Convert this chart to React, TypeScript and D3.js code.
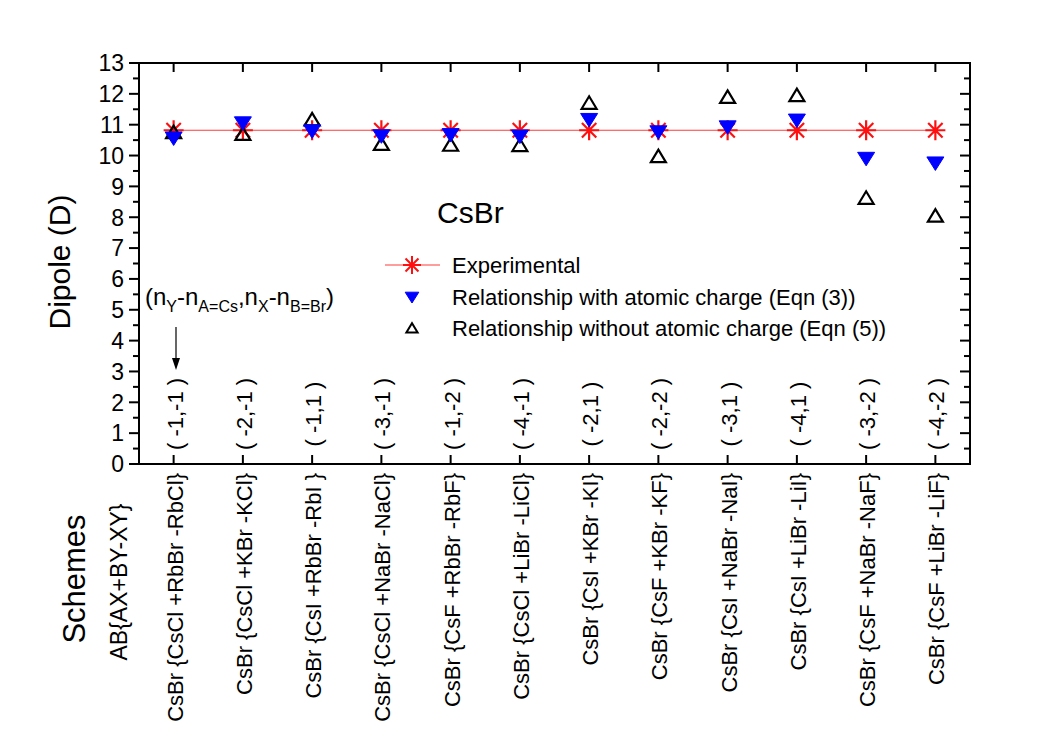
import React from "react";
import * as d3 from "d3";

const schemes = [
  "CsBr {CsCl +RbBr -RbCl}",
  "CsBr {CsCl +KBr -KCl}",
  "CsBr {CsI +RbBr -RbI }",
  "CsBr {CsCl +NaBr -NaCl}",
  "CsBr {CsF +RbBr -RbF}",
  "CsBr {CsCl +LiBr -LiCl}",
  "CsBr {CsI +KBr -KI}",
  "CsBr {CsF +KBr -KF}",
  "CsBr {CsI +NaBr -NaI}",
  "CsBr {CsI +LiBr -LiI}",
  "CsBr {CsF +NaBr -NaF}",
  "CsBr {CsF +LiBr -LiF}",
];
const pairs = [
  "( -1,-1 )", "( -2,-1 )", "( -1,1 )", "( -3,-1 )", "( -1,-2 )", "( -4,-1 )",
  "( -2,1 )", "( -2,-2 )", "( -3,1 )", "( -4,1 )", "( -3,-2 )", "( -4,-2 )",
];
const experimental = [10.82, 10.82, 10.82, 10.82, 10.82, 10.82, 10.82, 10.82, 10.82, 10.82, 10.82, 10.82];
const eqn3 = [10.57, 11.06, 10.8, 10.64, 10.68, 10.63, 11.17, 10.77, 10.93, 11.15, 9.91, 9.76];
const eqn5 = [10.76, 10.7, 11.17, 10.38, 10.35, 10.34, 11.71, 9.98, 11.9, 11.96, 8.63, 8.05];
const yTicks = d3.range(0, 14, 1);
const yMinor = d3.range(0.5, 13, 1);

const FONT = "'Liberation Sans', Arial, sans-serif";

export default function App() {
  const L = 139, R = 970, T = 63, B = 464;
  const x = d3.scaleLinear().domain([0.5, 12.5]).range([L, R]);
  const y = d3.scaleLinear().domain([0, 13]).range([B, T]);
  const idx = d3.range(1, 13);
  const line = d3.line<number>().x((_, i) => x(i + 1)).y((d) => y(d));

  const star = (cx: number, cy: number, r: number) => {
    const a = r * 0.72;
    return `M${cx - r},${cy}L${cx + r},${cy}M${cx},${cy - r}L${cx},${cy + r}M${cx - a},${cy - a}L${cx + a},${cy + a}M${cx - a},${cy + a}L${cx + a},${cy - a}`;
  };
  const triDown = (cx: number, cy: number, s = 1) =>
    `M${cx - 8.5 * s},${cy - 6 * s}L${cx + 8.5 * s},${cy - 6 * s}L${cx},${cy + 7.5 * s}Z`;
  const triUp = (cx: number, cy: number, s = 1) =>
    `M${cx - 7.5 * s},${cy + 6 * s}L${cx + 7.5 * s},${cy + 6 * s}L${cx},${cy - 6.5 * s}Z`;

  return (
    <svg width={1039} height={734} style={{ position: "absolute", left: 0, top: 0, background: "#fff" }} fontFamily={FONT}>
      <rect x={0} y={0} width={1039} height={734} fill="#fff" />
      {/* frame */}
      <rect x={L} y={T} width={R - L} height={B - T} fill="none" stroke="#000" strokeWidth={2} />
      {/* y ticks */}
      {yTicks.map((t) => (
        <g key={"yt" + t}>
          <line x1={L - 10} x2={L} y1={y(t)} y2={y(t)} stroke="#000" strokeWidth={2} />
          <line x1={R - 10} x2={R} y1={y(t)} y2={y(t)} stroke="#000" strokeWidth={2} />
          <text x={L - 15} y={y(t)} dy="0.36em" textAnchor="end" fontSize={23}>{t}</text>
        </g>
      ))}
      {yMinor.map((t) => (
        <g key={"ym" + t}>
          <line x1={L - 6} x2={L} y1={y(t)} y2={y(t)} stroke="#000" strokeWidth={2} />
          <line x1={R - 6} x2={R} y1={y(t)} y2={y(t)} stroke="#000" strokeWidth={2} />
        </g>
      ))}
      {/* x ticks */}
      {idx.map((i) => (
        <g key={"xt" + i}>
          <line x1={x(i)} x2={x(i)} y1={B} y2={B - 9} stroke="#000" strokeWidth={2} />
          <line x1={x(i)} x2={x(i)} y1={T} y2={T + 9} stroke="#000" strokeWidth={2} />
        </g>
      ))}
      {/* pair labels */}
      {idx.map((i) => (
        <text key={"p" + i} transform={`translate(${x(i) + 1},${414}) rotate(-90)`} textAnchor="middle" dy="0.36em" fontSize={22}>
          {pairs[i - 1]}
        </text>
      ))}
      {/* scheme labels */}
      {idx.map((i) => (
        <text key={"s" + i} transform={`translate(${x(i) + 1},${473}) rotate(-90)`} textAnchor="end" dy="0.36em" fontSize={22}>
          {schemes[i - 1]}
        </text>
      ))}
      {/* experimental line */}
      <path d={line(experimental) || ""} fill="none" stroke="#ff3b3b" strokeWidth={1.2} />
      {experimental.map((v, i) => (
        <path key={"e" + i} d={star(x(i + 1), y(v), 10)} stroke="#ff1010" strokeWidth={2.2} fill="none" />
      ))}
      {eqn5.map((v, i) => (
        <path key={"b" + i} d={triUp(x(i + 1), y(v))} stroke="#000" strokeWidth={2.2} fill="none" />
      ))}
      {eqn3.map((v, i) => (
        <path key={"a" + i} d={triDown(x(i + 1), y(v))} fill="#0000ff" stroke="#0000ff" strokeWidth={1} />
      ))}
      {/* title */}
      <text x={437} y={223} fontSize={30}>CsBr</text>
      {/* legend */}
      <line x1={385} x2={440} y1={265} y2={265} stroke="#ff3b3b" strokeWidth={1.2} />
      <path d={star(412, 265, 9)} stroke="#ff1010" strokeWidth={2} fill="none" />
      <text x={452} y={265} dy="0.36em" fontSize={22}>Experimental</text>
      <path d={triDown(412, 297, 0.8)} fill="#0000ff" stroke="#0000ff" strokeWidth={1} />
      <text x={452} y={297} dy="0.36em" fontSize={22}>Relationship with atomic charge (Eqn (3))</text>
      <path d={triUp(412, 328, 0.75)} fill="none" stroke="#000" strokeWidth={2} />
      <text x={452} y={328} dy="0.36em" fontSize={22}>Relationship without atomic charge (Eqn (5))</text>
      {/* annotation */}
      <text x={145} y={305} fontSize={24}>
        <tspan>(n</tspan>
        <tspan fontSize={16} dy={7}>Y</tspan>
        <tspan dy={-7}>-n</tspan>
        <tspan fontSize={16} dy={7}>A=Cs</tspan>
        <tspan dy={-7}>,n</tspan>
        <tspan fontSize={16} dy={7}>X</tspan>
        <tspan dy={-7}>-n</tspan>
        <tspan fontSize={16} dy={7}>B=Br</tspan>
        <tspan dy={-7}>)</tspan>
      </text>
      <line x1={176} x2={176} y1={327} y2={360} stroke="#000" strokeWidth={1.2} />
      <path d="M172,358L180,358L176,370Z" fill="#000" />
      {/* axis titles */}
      <text transform="translate(70,262) rotate(-90)" textAnchor="middle" fontSize={30}>Dipole (D)</text>
      <text transform="translate(85,579) rotate(-90)" textAnchor="middle" fontSize={31}>Schemes</text>
      <text transform="translate(119,582) rotate(-90)" textAnchor="middle" dy="0.36em" fontSize={23}>AB{"{"}AX+BY-XY{"}"}</text>
    </svg>
  );
}
